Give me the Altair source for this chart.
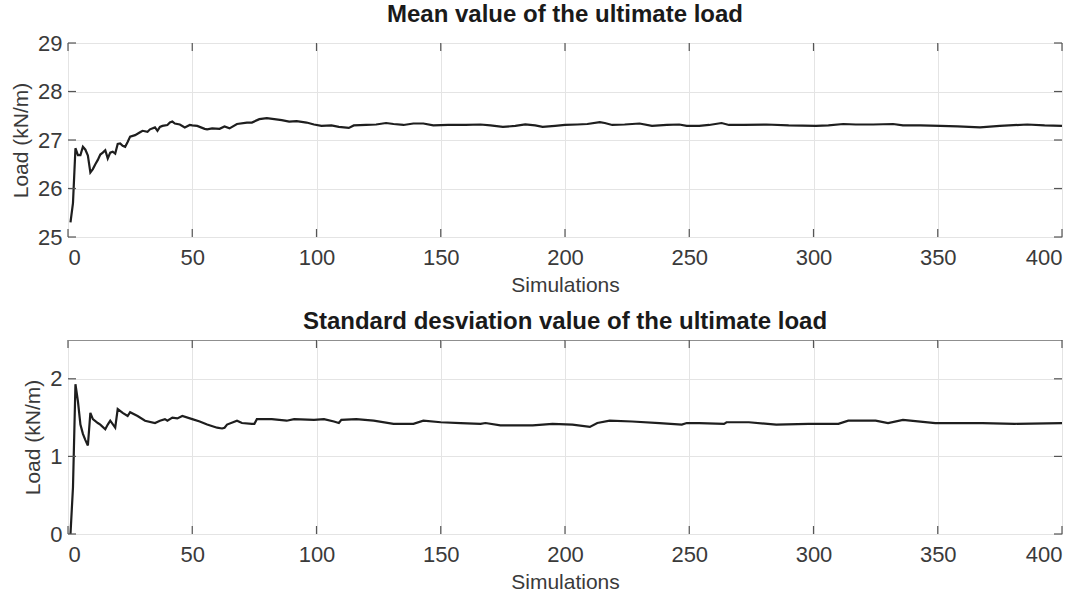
import altair as alt
import pandas as pd

# Running mean of the ultimate load versus number of simulations
mean_sims = [1, 2, 3, 4, 5, 6, 7, 8, 9, 10, 11, 12, 13, 14, 15, 16, 17, 18, 19, 20,
             21, 22, 23, 24, 25, 27, 29, 30, 32, 33, 35, 36, 37, 38, 40, 41, 42, 43, 45, 47,
             49, 50, 52, 55, 56, 58, 61, 63, 65, 68, 72, 74, 77, 80, 83, 86, 89, 92, 96, 99,
             102, 106, 109, 113, 115, 120, 124, 128, 131, 135, 139, 143, 147, 153, 160, 166, 170, 175, 180, 184,
             188, 191, 196, 200, 205, 209, 214, 216, 219, 224, 230, 235, 241, 246, 249, 254, 258, 263, 266, 272,
             281, 290, 301, 306, 312, 317, 324, 332, 336, 343, 351, 358, 367, 375, 386, 393, 400]
mean_load = [25.30, 25.70, 26.83, 26.69, 26.69, 26.86, 26.80, 26.68, 26.33, 26.40, 26.50, 26.59, 26.70, 26.74, 26.79, 26.62, 26.74, 26.76, 26.72, 26.92,
             26.93, 26.88, 26.86, 26.96, 27.07, 27.10, 27.16, 27.19, 27.17, 27.22, 27.26, 27.19, 27.27, 27.29, 27.31, 27.36, 27.38, 27.34, 27.32, 27.26,
             27.31, 27.30, 27.29, 27.23, 27.22, 27.24, 27.23, 27.28, 27.24, 27.33, 27.36, 27.36, 27.43, 27.45, 27.43, 27.41, 27.38, 27.39, 27.36, 27.32,
             27.29, 27.30, 27.27, 27.25, 27.30, 27.31, 27.32, 27.35, 27.33, 27.31, 27.34, 27.34, 27.30, 27.31, 27.31, 27.32, 27.30, 27.27, 27.29, 27.32,
             27.30, 27.27, 27.29, 27.31, 27.32, 27.33, 27.37, 27.35, 27.31, 27.32, 27.34, 27.29, 27.31, 27.32, 27.29, 27.29, 27.31, 27.35, 27.31, 27.31,
             27.32, 27.30, 27.29, 27.30, 27.33, 27.32, 27.32, 27.33, 27.30, 27.30, 27.29, 27.28, 27.26, 27.29, 27.32, 27.30, 27.29]

# Running standard deviation of the ultimate load
std_sims = [1, 2, 3, 4, 5, 6, 7, 8, 9, 10, 12, 13, 15, 16, 17, 19, 20, 22, 24, 25,
            28, 31, 35, 37, 39, 40, 42, 44, 46, 50, 53, 56, 60, 62, 63, 64, 68, 70, 74, 75,
            76, 82, 88, 91, 99, 103, 107, 109, 110, 116, 123, 131, 139, 143, 150, 158, 166, 168, 174, 187,
            195, 203, 210, 213, 218, 227, 238, 247, 249, 254, 264, 265, 274, 285, 298, 310, 314, 325, 330, 336,
            349, 368, 381, 400]
std_load = [0.00, 0.60, 1.93, 1.71, 1.41, 1.29, 1.21, 1.14, 1.56, 1.48, 1.43, 1.41, 1.35, 1.41, 1.46, 1.37, 1.61, 1.56, 1.52, 1.57,
            1.52, 1.46, 1.43, 1.46, 1.48, 1.46, 1.50, 1.49, 1.52, 1.48, 1.45, 1.41, 1.37, 1.36, 1.37, 1.41, 1.46, 1.43, 1.42, 1.42,
            1.48, 1.48, 1.46, 1.48, 1.47, 1.48, 1.45, 1.43, 1.47, 1.48, 1.46, 1.42, 1.42, 1.46, 1.44, 1.43, 1.42, 1.43, 1.40, 1.40,
            1.42, 1.41, 1.38, 1.43, 1.46, 1.45, 1.43, 1.41, 1.43, 1.43, 1.42, 1.44, 1.44, 1.41, 1.42, 1.42, 1.46, 1.46, 1.43, 1.47,
            1.43, 1.43, 1.42, 1.43]

x_ticks = [0, 50, 100, 150, 200, 250, 300, 350, 400]
mean_ticks = [25, 26, 27, 28, 29]
std_ticks = [0, 1, 2]

W, H = 994, 194
FONT = "Liberation Sans"
TXT = "#3a3a3a"
FRAME = "#8f8f8f"
TICK_LEN = 8


def panel(sims, loads, title, ydomain, yticks):
    df = pd.DataFrame({"sim": sims, "load": loads})
    xs = alt.Scale(domain=[0, 400], nice=False)
    ys = alt.Scale(domain=ydomain, nice=False, zero=False)
    xax = alt.Axis(values=x_ticks, title="Simulations", labelPadding=10, titlePadding=6)
    yax = alt.Axis(values=yticks, title="Load (kN/m)", labelPadding=6, titlePadding=6)

    line = alt.Chart(df).mark_line(color="#1e1e1e", strokeWidth=2.2).encode(
        x=alt.X("sim:Q", scale=xs, axis=xax),
        y=alt.Y("load:Q", scale=ys, axis=yax),
    )

    # inward tick marks on all four sides of the box
    xt = alt.Chart(pd.DataFrame({"t": x_ticks}))
    yt = alt.Chart(pd.DataFrame({"t": yticks}))
    tick = dict(color="#555555", strokeWidth=1.2)
    bottom = xt.mark_rule(**tick).encode(
        x=alt.X("t:Q", scale=xs, axis=xax), y=alt.value(H), y2=alt.value(H - TICK_LEN))
    top = xt.mark_rule(**tick).encode(
        x=alt.X("t:Q", scale=xs, axis=xax), y=alt.value(0), y2=alt.value(TICK_LEN))
    left = yt.mark_rule(**tick).encode(
        y=alt.Y("t:Q", scale=ys, axis=yax), x=alt.value(0), x2=alt.value(TICK_LEN))
    right = yt.mark_rule(**tick).encode(
        y=alt.Y("t:Q", scale=ys, axis=yax), x=alt.value(W), x2=alt.value(W - TICK_LEN))

    return alt.layer(line, bottom, top, left, right).properties(
        width=W, height=H,
        title=alt.TitleParams(title, fontSize=24, fontWeight="bold", font=FONT,
                              color="#1a1a1a", offset=5),
    )


chart = alt.vconcat(
    panel(mean_sims, mean_load, "Mean value of the ultimate load", [25, 29], mean_ticks),
    panel(std_sims, std_load, "Standard desviation value of the ultimate load", [0, 2.5], std_ticks),
    spacing=13,
).properties(
    padding={"left": 10, "top": 2, "right": 5, "bottom": 2},
    background="white",
).configure_view(
    stroke=FRAME, strokeWidth=1,
).configure_axis(
    domain=False, ticks=False, grid=True, gridColor="#e4e4e4", gridWidth=1,
    labelFont=FONT, labelFontSize=22, labelColor=TXT,
    titleFont=FONT, titleFontSize=21, titleFontWeight="normal", titleColor=TXT,
)

chart.save("out.html", embed_options={"renderer": "svg", "actions": False})
